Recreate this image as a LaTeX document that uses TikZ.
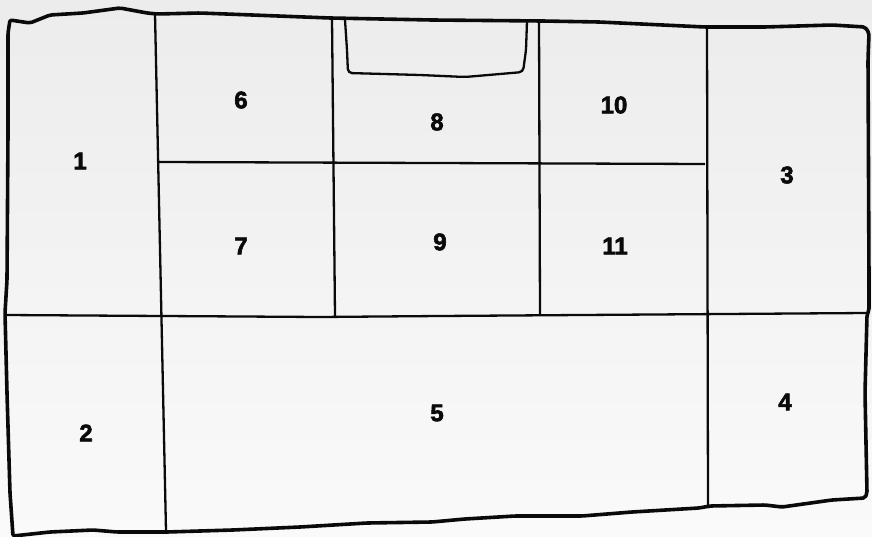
\documentclass[tikz,border=0pt]{standalone}
\usepackage{fontspec}
\usepackage{tikz}
\newfontfamily\roomfont{Liberation Sans}[BoldFeatures={FakeBold=2.5}]
\definecolor{paper}{RGB}{236,236,236}
\definecolor{paperlow}{RGB}{250,250,250}
\definecolor{ink}{RGB}{10,10,10}
\tikzstyle{wall}=[draw=ink, line width=3.6pt, rounded corners=2pt, line join=round]
\tikzstyle{partition}=[draw=ink, line width=2.3pt]
\tikzstyle{room}=[font=\roomfont\bfseries\fontsize{24}{24}\selectfont, text=ink, inner sep=0pt]

\begin{document}
\begin{tikzpicture}[x=1pt, y=-1pt]
    \useasboundingbox (0,0) rectangle (872,537);
    \shade[top color=paper, bottom color=paperlow] (0,0) rectangle (872,537);

    %partitions
    \draw[partition] (155,14) -- (166,531);
    \draw[partition] (5,315) -- (320,317) -- (440,316) -- (867,313);
    \draw[partition] (159,162) -- (705,164);
    \draw[partition] (332,19) -- (335,316);
    \draw[partition] (539,20) -- (540,314);
    \draw[partition] (707,27) -- (708,508);

    %alcove in 8
    \draw[partition, rounded corners=4pt] (345,20) -- (347,50) -- (348,73) -- (420,75) -- (465,77) -- (500,74) -- (523,72) -- (526,50) -- (527,21);

    %outer wall
    \draw[wall] (10,20) -- (30,23) -- (50,15) -- (83,13) -- (120,8) -- (147,13) -- (157,14) -- (200,13) -- (330,18) -- (432,20) -- (542,21) -- (599,22) -- (705,27) -- (765,27) -- (832,25) -- (865,27) -- (869,33)
        -- (868,60) -- (869,280) -- (869,310) -- (867,315) -- (865,393) -- (867,493) -- (865,498)
        -- (832,500) -- (782,507) -- (765,505) -- (710,506) -- (699,508) -- (632,512) -- (582,516) -- (515,516) -- (465,519) -- (432,522) -- (367,523) -- (300,527) -- (233,530) -- (167,532) -- (117,532) -- (93,530) -- (50,532) -- (13,536)
        -- (10,493) -- (7,393) -- (5,313) -- (7,280) -- (8,133) -- (8,33) -- cycle;

    %room numbers
    \foreach \n/\x/\y in {1/80/161, 2/86/433, 3/787/175, 4/785/402, 5/437/413, 6/241/100, 7/241/246, 8/437/122, 9/440/242, 10/614/105, 11/615/246} {
    \node[room] (room\n) at (\x,\y) {\n};
    }

\end{tikzpicture}
\end{document}
